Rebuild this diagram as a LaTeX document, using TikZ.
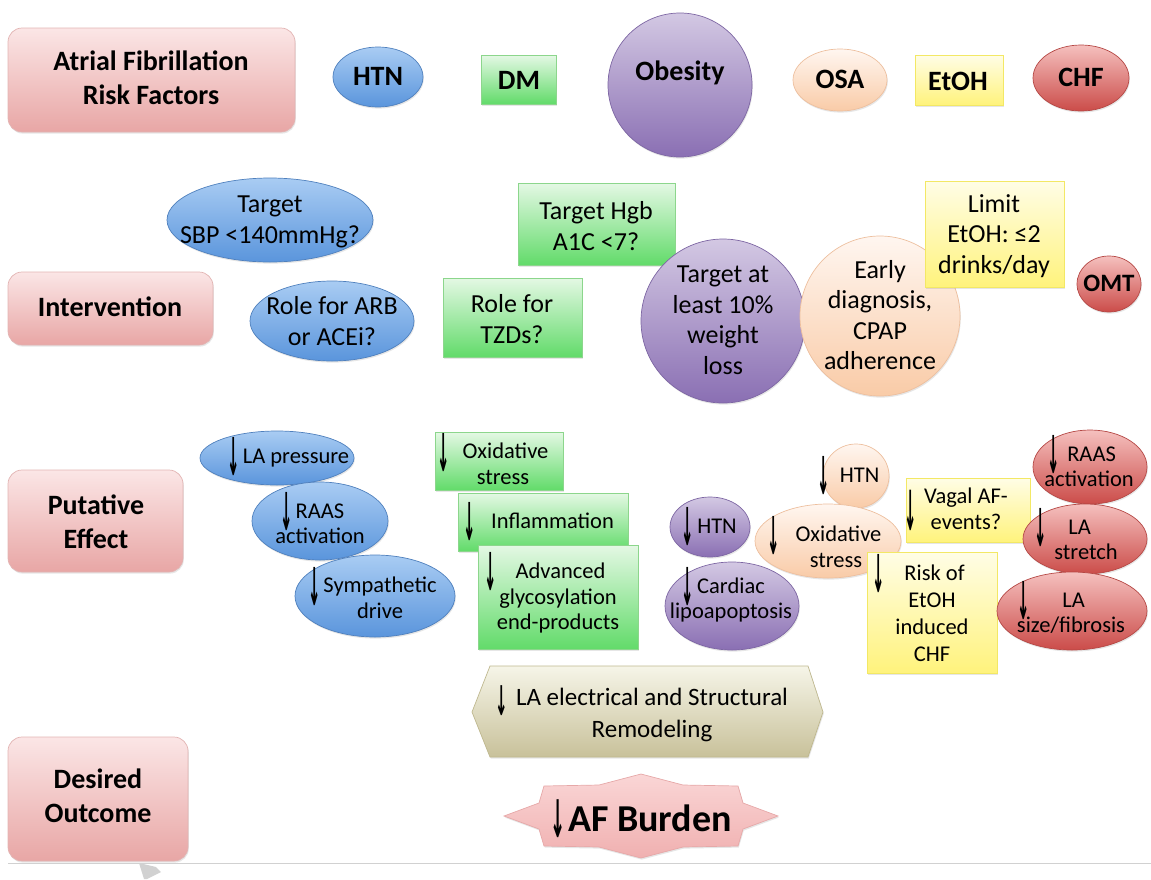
\documentclass[tikz,border=0pt]{standalone}
\usepackage{fontspec}
\usepackage{graphicx}
\setmainfont{Carlito}
\newfontfamily\arrowfont{DejaVu Sans}
\usetikzlibrary{shadows}

\definecolor{pinkT}{HTML}{FBE6E6}
\definecolor{pinkB}{HTML}{E8A6A5}
\definecolor{pinkD}{HTML}{E2B4B3}
\definecolor{blueT}{HTML}{A9CCF3}
\definecolor{blueB}{HTML}{5A95DC}
\definecolor{blueD}{HTML}{4F80BD}
\definecolor{greenT}{HTML}{E4F8E4}
\definecolor{greenB}{HTML}{62DB6A}
\definecolor{greenD}{HTML}{8CD68C}
\definecolor{purpT}{HTML}{D3C8E3}
\definecolor{purpB}{HTML}{8A6FB3}
\definecolor{purpD}{HTML}{7D66A3}
\definecolor{peachT}{HTML}{FFF6F0}
\definecolor{peachB}{HTML}{F9CBA7}
\definecolor{peachD}{HTML}{EDBF9E}
\definecolor{yelT}{HTML}{FFFDE6}
\definecolor{yelB}{HTML}{FFF37C}
\definecolor{yelD}{HTML}{F3E865}
\definecolor{redT}{HTML}{F5C0BE}
\definecolor{redB}{HTML}{CB4C49}
\definecolor{redD}{HTML}{B54845}
\definecolor{khakiT}{HTML}{F6F5E8}
\definecolor{khakiB}{HTML}{C8C19A}
\definecolor{khakiD}{HTML}{BFB88F}
\definecolor{starT}{HTML}{FAD6D6}
\definecolor{starB}{HTML}{F0B0B0}
\definecolor{starD}{HTML}{E6A8A8}

% down arrow glyph
\newcommand{\dnglyph}{{\arrowfont\bfseries ↓}}
\newcommand{\leqs}{\iffontchar\font"2264 ≤\else$\leq$\fi}
% raise, width, height
\newcommand{\dnarrow}[3]{\raisebox{#1}[0pt][0pt]{\resizebox*{#2}{#3}{\raisebox{\depth}{\dnglyph}}}}
\newcommand{\dn}{\dnarrow{-0.55em}{0.55em}{1.7em}}
% hanging arrow left of the first line
\newcommand{\hdn}[1][3pt]{\leavevmode\llap{\dn\hspace{#1}}}

\tikzset{
  shp/.style={line width=0.7pt, drop shadow={shadow xshift=0.8pt, shadow yshift=-1.6pt, opacity=0.2}},
  pinkbox/.style={shp, rounded corners=14pt, top color=pinkT, bottom color=pinkB, draw=pinkD},
  blueshp/.style={shp, top color=blueT, bottom color=blueB, draw=blueD},
  greenshp/.style={shp, top color=greenT, bottom color=greenB, draw=greenD},
  purpshp/.style={shp, top color=purpT, bottom color=purpB, draw=purpD},
  peachshp/.style={shp, top color=peachT, bottom color=peachB, draw=peachD},
  yelshp/.style={shp, top color=yelT, bottom color=yelB, draw=yelD},
  redshp/.style={shp, top color=redT, bottom color=redB, draw=redD},
  khakishp/.style={shp, top color=khakiT, bottom color=khakiB, draw=khakiD},
  starshp/.style={shp, top color=starT, bottom color=starB, draw=starD},
  hdr/.style={font=\bfseries\fontsize{28}{34}\selectfont, align=center, inner sep=0pt},
  mid/.style={font=\fontsize{26}{30.5}\selectfont, align=center, inner sep=0pt},
  eff/.style={font=\fontsize{22.5}{25.5}\selectfont, align=center, inner sep=0pt},
}

\begin{document}
\begin{tikzpicture}[x=1pt,y=-1pt]
\useasboundingbox (0,0) rectangle (1151,879);

%Row: Risk Factors
%Shape: Rounded Rectangle
\shade[pinkbox] (8,28) rectangle (295,132);
% Text Node
\node[hdr] (riskfac) at (151,78) {Atrial Fibrillation\\Risk Factors};
%Shape: Ellipse
\shade[blueshp] (378,77) ellipse [x radius=45pt, y radius=30pt];
% Text Node
\node[hdr] (htn) at (378,76) {HTN};
%Shape: Rectangle
\shade[greenshp] (481,55) rectangle (556,104);
% Text Node
\node[hdr] (dm) at (519,80) {DM};
%Shape: Circle
\shade[purpshp] (680,85) circle [radius=72pt];
% Text Node
\node[hdr] (obesity) at (680,73) {Obesity};
%Shape: Ellipse
\shade[peachshp] (840,80) ellipse [x radius=47pt, y radius=31pt];
% Text Node
\node[hdr] (osa) at (840,79) {OSA};
%Shape: Rectangle
\shade[yelshp] (915,55) rectangle (1003,105);
% Text Node
\node[hdr] (etoh) at (958,81) {EtOH};
%Shape: Ellipse
\shade[redshp] (1081,78) ellipse [x radius=48pt, y radius=33pt];
% Text Node
\node[hdr] (chf) at (1081,77) {CHF};

%Row: Intervention
%Shape: Ellipse
\shade[blueshp] (270,220) ellipse [x radius=103pt, y radius=42pt];
% Text Node
\node[mid] (sbp) at (270,222) {Target\\SBP <140mmHg?};
%Shape: Rectangle
\shade[greenshp] (518,183) rectangle (675,265);
% Text Node
\node[mid] (hgb) at (596,226) {Target Hgb\\A1C <7?};
%Shape: Rounded Rectangle
\shade[pinkbox] (8,272) rectangle (213,345);
% Text Node
\node[hdr] (interv) at (110,307) {Intervention};
%Shape: Ellipse
\shade[blueshp] (332,321) ellipse [x radius=82pt, y radius=40pt];
% Text Node
\node[mid] (arb) at (332,321) {Role for ARB\\or ACEi?};
%Shape: Rectangle
\shade[greenshp] (443,278) rectangle (582,357);
% Text Node
\node[mid] (tzd) at (512,319) {Role for\\TZDs?};
%Shape: Circle
\shade[purpshp] (723,321) circle [radius=82pt];
% Text Node
\node[mid] (wtloss) at (723,320) {Target at\\least 10\%\\weight\\loss};
%Shape: Circle
\shade[peachshp] (880,316) circle [radius=80pt];
% Text Node
\node[mid] (cpap) at (880,315) {Early\\diagnosis,\\CPAP\\adherence};
%Shape: Rectangle
\shade[yelshp] (925,181) rectangle (1064,287);
% Text Node
\node[mid] (limit) at (994,236) {Limit\\EtOH: \leqs2\\drinks/day};
%Shape: Ellipse
\shade[redshp] (1109,284) ellipse [x radius=32pt, y radius=28pt];
% Text Node
\node[hdr, font=\bfseries\fontsize{25}{30}\selectfont] (omt) at (1109,283) {OMT};

%Row: Putative Effect
%Shape: Rounded Rectangle
\shade[pinkbox] (8,470) rectangle (183,572);
% Text Node
\node[hdr] (puteff) at (96,522) {Putative\\Effect};
%Shape: Ellipse
\shade[blueshp] (277,458) ellipse [x radius=77pt, y radius=27pt];
% Text Node
\node[eff] (lapress) at (296,458) {\hdn LA pressure};
%Shape: Ellipse
\shade[blueshp] (320,521) ellipse [x radius=68pt, y radius=39pt];
% Text Node
\node[eff] (raas) at (320,524) {\hdn RAAS\\activation};
%Shape: Ellipse
\shade[blueshp] (375,596) ellipse [x radius=80pt, y radius=41pt];
% Text Node
\node[eff] (symp) at (380,598) {\hdn Sympathetic\\drive};
%Shape: Rectangle
\shade[greenshp] (435,432) rectangle (563,490);
% Text Node
\node[eff] (oxdm) at (503,464) {\hdn[8pt] Oxidative\\stress};
%Shape: Rectangle
\shade[greenshp] (458,493) rectangle (628,551);
% Text Node
\node[eff] (inflam) at (550,521) {\hdn[10pt] Inflammation};
%Shape: Rectangle
\shade[greenshp] (478,545) rectangle (638,649);
% Text Node
\node[eff] (ages) at (558,598) {\hdn[14pt] Advanced\\glycosylation\\end-products};
%Shape: Ellipse
\shade[purpshp] (710,527) ellipse [x radius=40pt, y radius=30pt];
% Text Node
\node[eff] (htnob) at (717,526) {\hdn HTN};
%Shape: Ellipse
\shade[purpshp] (732,606) ellipse [x radius=67pt, y radius=44pt];
% Text Node
\node[eff] (lipo) at (731,600) {\hdn Cardiac\\lipoapoptosis};
%Shape: Ellipse
\shade[peachshp] (856,476) ellipse [x radius=33pt, y radius=32pt];
% Text Node
\node[eff] (htnosa) at (857,475) {\hdn[5pt] HTN};
%Shape: Ellipse
\shade[peachshp] (828,541) ellipse [x radius=73pt, y radius=37pt];
% Text Node
\node[eff] (oxosa) at (836,547) {\hdn[11pt] Oxidative\\stress};
%Shape: Rectangle
\shade[yelshp] (906,478) rectangle (1030,542);
% Text Node
\node[eff] (vagal) at (966,509) {\leavevmode\llap{\dnarrow{-1.2em}{0.55em}{1.8em}\hspace{7pt}}Vagal AF-\\events?};
%Shape: Rectangle
\shade[yelshp] (867,552) rectangle (997,673);
% Text Node
\node[eff, font=\fontsize{22.5}{27}\selectfont] (etohchf) at (932,613) {\hdn[14pt] Risk of\\EtOH\\induced\\CHF};
%Shape: Ellipse
\shade[redshp] (1090,467) ellipse [x radius=57pt, y radius=37pt];
% Text Node
\node[eff] (raaschf) at (1089,467) {\hdn[2pt] RAAS\\activation};
%Shape: Ellipse
\shade[redshp] (1085,539) ellipse [x radius=62pt, y radius=35pt];
% Text Node
\node[eff] (stretch) at (1086,540) {\hdn[16pt] LA\kern18pt\\stretch};
%Shape: Ellipse
\shade[redshp] (1072,611) ellipse [x radius=75pt, y radius=39pt];
% Text Node
\node[eff] (fibrosis) at (1071,613) {\hdn[27pt] LA\\size/fibrosis};

%Row: Desired Outcome
%Shape: Hexagon
\shade[khakishp] (490,666) -- (808,666) -- (823,712) -- (808,757) -- (490,757) -- (472,712) -- cycle;
% Text Node
\node[eff, font=\fontsize{25}{32}\selectfont] (remodel) at (652,715) {\leavevmode\llap{\dnarrow{-0.4em}{0.5em}{1.2em}\hspace{8pt}}LA electrical and Structural\\Remodeling};
%Shape: Star
\shade[starshp] (778,816) -- (743,803) -- (738,786) -- (683,785) -- (641,774) -- (599,785) -- (544,786) -- (539,803) -- (504,816) -- (539,829) -- (544,846) -- (599,847) -- (641,858) -- (683,847) -- (738,846) -- (743,829) -- cycle;
% Text Node
\node[inner sep=0pt, font=\bfseries\fontsize{38}{44}\selectfont] (afburden) at (650,818) {\leavevmode\llap{\dnarrow{-0.17em}{0.4em}{1em}\hspace{2pt}}AF Burden};
%Shape: Rounded Rectangle
\shade[pinkbox] (8,737) rectangle (188,861);
% Text Node
\node[hdr] (desired) at (98,796) {Desired\\Outcome};

%Straight Lines
\draw[line width=1pt, black!18] (8,863) -- (1151,863);
\fill[black!18] (139,863) -- (156,867) -- (161,872) -- (147,879) -- (144,879) -- cycle;

\end{tikzpicture}
\end{document}
